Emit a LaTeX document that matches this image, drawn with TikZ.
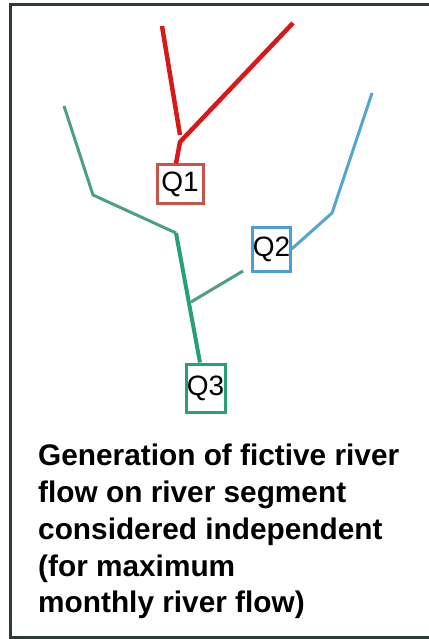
\documentclass[tikz,border=0pt]{standalone}
\usepackage{fontspec}
\setmainfont{Liberation Sans}
\definecolor{rivred}{RGB}{215,25,25}
\definecolor{boxred}{RGB}{200,85,75}
\definecolor{rivgreen}{RGB}{40,160,118}
\definecolor{thingreen}{RGB}{75,160,130}
\definecolor{rivblue}{RGB}{85,165,205}
\definecolor{boxblue}{RGB}{75,160,210}
\definecolor{framecol}{RGB}{45,60,55}
\tikzset{
  qbox/.style={draw, line width=3pt, inner sep=0pt, font=\fontsize{28}{28}\selectfont, fill=none},
  thick river/.style={line width=4pt},
  thin river/.style={line width=3pt},
}
\begin{document}
\begin{tikzpicture}[x=1pt,y=-1pt]
\useasboundingbox (0,0) rectangle (428,639);
\draw[framecol, line width=3pt] (10,4.5) rectangle (440,637);
% nodes
\node[qbox, draw=boxred, minimum width=46pt, minimum height=38pt] (q1) at (180,184) {Q1};
\node[qbox, draw=boxblue, minimum width=37pt, minimum height=44pt] (q2) at (271.5,249) {Q2};
\node[qbox, draw=rivgreen, minimum width=39pt, minimum height=48pt] (q3) at (205.5,388) {Q3};
% coordinates
\coordinate (r1) at (162,26);
\coordinate (r2) at (293,23);
\coordinate (rj1) at (180,135);
\coordinate (rj) at (180,142);
\coordinate (g1) at (64,106);
\coordinate (g2) at (93,195);
\coordinate (gj) at (176,233);
\coordinate (gb) at (191,302);
\coordinate (gq) at (243,271);
\coordinate (b1) at (372,93);
\coordinate (b2) at (332,213);
% red
\draw[rivred, line width=4.5pt] (r1) -- (rj1);
\draw[rivred, line width=4.5pt] (r2) -- (rj) -- (q1.north -| 176,0);
% green
\draw[thingreen, thin river, line join=round] (g1) -- (g2) -- (gj);
\draw[rivgreen, thick river] (gj) -- (q3.north -| 200,0);
\draw[thingreen, thin river] (gq) -- (gb);
% blue
\draw[rivblue, thin river, line join=round] (b1) -- (b2) -- (q2.east);
% caption
\node[anchor=north west, inner sep=0pt, align=left, font=\fontsize{29.8}{36.75}\selectfont\bfseries] (cap) at (38,444)
 {Generation of fictive river\\flow on river segment\\considered independent\\(for maximum\\monthly river flow)};
\end{tikzpicture}
\end{document}
